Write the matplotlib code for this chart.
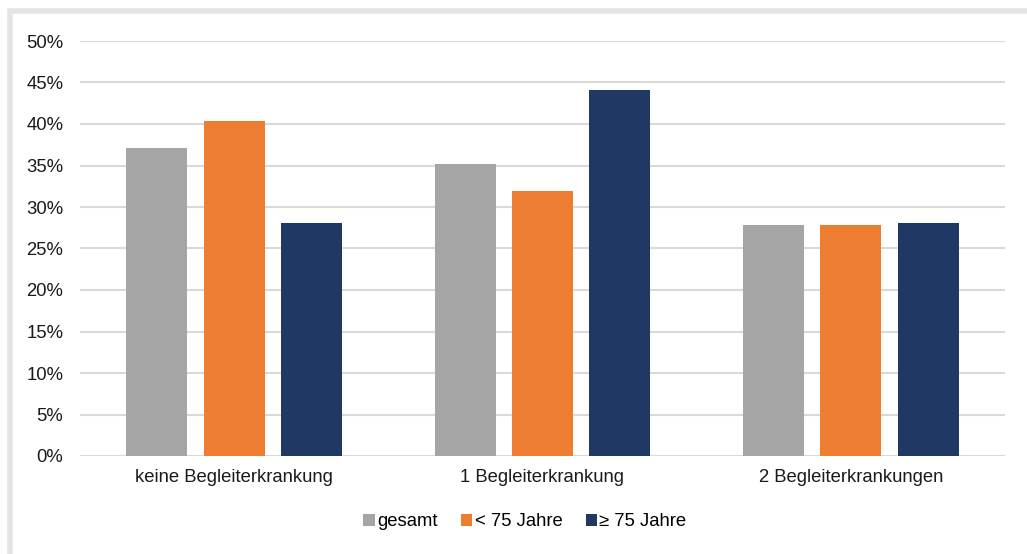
import matplotlib
matplotlib.use("Agg")
import matplotlib.pyplot as plt
from matplotlib.patches import Rectangle
import numpy as np

plt.rcParams['font.family'] = ['Liberation Sans', 'DejaVu Sans']

categories = ["keine Begleiterkrankung", "1 Begleiterkrankung", "2 Begleiterkrankungen"]
series_names = ["gesamt", "< 75 Jahre", "\u2265 75 Jahre"]
gesamt = [37.1, 35.2, 27.8]
unter_75 = [40.4, 31.9, 27.8]
ab_75 = [28.1, 44.1, 28.1]
colors = ["#a5a5a5", "#ed7d31", "#203864"]
yticks = [0, 5, 10, 15, 20, 25, 30, 35, 40, 45, 50]

fig = plt.figure(figsize=(10.27, 5.54), dpi=100)
fig.patch.set_facecolor("white")

# light frame around the chart area
fig.patches.append(Rectangle((9.5 / 1027, -0.1), 1.2, (554 - 11) / 554 + 0.1,
                             transform=fig.transFigure, fill=False,
                             edgecolor="#e4e4e4", linewidth=4, zorder=0))

ax = fig.add_axes([80 / 1027, (554 - 456) / 554, (1005 - 80) / 1027, (456 - 41) / 554])

x = np.arange(len(categories))
width = 0.198
step = 0.251
for i, (vals, name, col) in enumerate(zip([gesamt, unter_75, ab_75], series_names, colors)):
    ax.bar(x + (i - 1) * step, vals, width, color=col, label=name, zorder=3)

ax.set_xlim(-0.5, len(categories) - 0.5)
ax.set_ylim(0, 50)
ax.set_yticks(yticks)
ax.set_yticklabels([f"{v}%" for v in yticks])
ax.set_xticks(x)
ax.set_xticklabels(categories)
ax.tick_params(axis="both", length=0, labelsize=13.3, colors="#1a1a1a")
ax.tick_params(axis="y", pad=12)
ax.tick_params(axis="x", pad=9)
ax.yaxis.grid(True, color="#d9d9d9", linewidth=1.5, zorder=0)
ax.set_axisbelow(True)
for s in ax.spines.values():
    s.set_visible(False)

fig.legend(loc="center", bbox_to_anchor=(525 / 1027, 1 - 522 / 554), ncol=3,
           frameon=False, fontsize=13.3, handlelength=0.6, handleheight=0.6,
           handletextpad=0.15, columnspacing=1.25)

fig.savefig("out.png", dpi=100, facecolor="white")
